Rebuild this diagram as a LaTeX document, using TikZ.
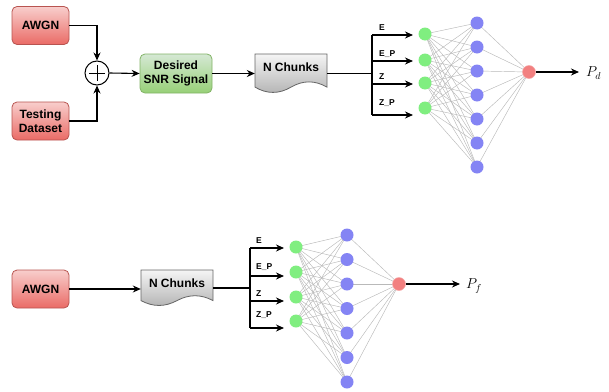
\documentclass[tikz,border=0pt]{standalone}
\usepackage{fontspec}
\setmainfont{Liberation Sans}
\usetikzlibrary{arrows.meta,calc}
\definecolor{redfillA}{HTML}{F8CECC}
\definecolor{redfillB}{HTML}{EA6B66}
\definecolor{redline}{HTML}{B85450}
\definecolor{grnfillA}{HTML}{D5E8D4}
\definecolor{grnfillB}{HTML}{97D077}
\definecolor{grnline}{HTML}{82B366}
\definecolor{gryfillA}{HTML}{F5F5F5}
\definecolor{gryfillB}{HTML}{B3B3B3}
\definecolor{gryline}{HTML}{666666}
\definecolor{nGreen}{HTML}{80EE80}
\definecolor{nBlue}{HTML}{8484F4}
\definecolor{nRed}{HTML}{F28080}
\tikzset{
  boxfont/.style={font=\fontsize{12}{14}\selectfont\bfseries, align=center},
  redbox/.style={boxfont, rounded corners=5pt, draw=redline, line width=0.8pt,
    top color=redfillA, bottom color=redfillB, minimum width=57pt, minimum height=38pt, inner sep=1pt},
  grnbox/.style={boxfont, rounded corners=5pt, draw=grnline, line width=0.8pt,
    top color=grnfillA, bottom color=grnfillB, minimum width=72pt, minimum height=39pt, inner sep=1pt},
  docshape/.style={draw=gryline, line width=0.8pt, top color=gryfillA, bottom color=gryfillB},
  arr/.style={line width=1.1pt, -{Stealth[length=8pt,width=7pt]}},
  ln/.style={line width=1.1pt},
  lab/.style={font=\fontsize{8.5}{10}\selectfont\bfseries, anchor=west, inner sep=0pt},
  neuron/.style={circle, inner sep=0pt, minimum size=13pt},
  gn/.style={neuron, fill=nGreen},
  bn/.style={neuron, fill=nBlue},
  rn/.style={neuron, fill=nRed, draw=nRed!70!white, line width=0.5pt},
  wire/.style={draw=gray!55, line width=0.45pt},
  outlab/.style={font=\fontsize{14.5}{16}\selectfont, anchor=west, inner sep=0pt}
}
\begin{document}
\begin{tikzpicture}[x=1pt,y=-1pt]
\useasboundingbox (0,0) rectangle (609,391);

% ===== Top diagram =====
\node[redbox] (awgn1) at (40.5,25.5) {AWGN};
\node[redbox] (test) at (40.5,121) {Testing\\Dataset};
\node[circle, draw, line width=1pt, minimum size=24pt, inner sep=0pt] (sum) at (97,73) {};
\draw[line width=1pt] ($(sum.center)+(-8,0)$) -- ($(sum.center)+(8,0)$);
\draw[line width=1pt] ($(sum.center)+(0,-8)$) -- ($(sum.center)+(0,8)$);
\draw[arr] (awgn1.east) -| (sum.north);
\draw[arr] (test.east) -| (sum.south);
\node[grnbox] (snr) at (176,73.5) {Desired\\SNR Signal};
\draw[arr] (sum.east) -- (snr.west);

\node[minimum width=72pt, minimum height=39pt, inner sep=0pt] (chunk1) at (291,73.5) {};
\begin{scope}[shift={(255,54)}]
\path[docshape] (0,0) -- (72,0) -- (72,33.15)
  .. controls (60,26.13) and (48,26.13) .. (36,33.15)
  .. controls (24,40.17) and (12,40.17) .. (0,33.15) -- cycle;
\end{scope}
\node[boxfont] (chunk1txt) at (291,67.5) {N Chunks};
\draw[arr] (snr.east) -- (chunk1.west);

\coordinate (br1) at (372,73.5);
\coordinate (b1a) at (372,35);
\coordinate (b1b) at (372,61);
\coordinate (b1c) at (372,84);
\coordinate (b1d) at (372,115);
\coordinate (e1a) at (413,35);
\coordinate (e1b) at (413,61);
\coordinate (e1c) at (413,84);
\coordinate (e1d) at (413,115);
\draw[ln] (chunk1.east) -- (br1);
\draw[ln] (b1a) -- (b1d);
\draw[arr] (b1a) -- (e1a);
\draw[arr] (b1b) -- (e1b);
\draw[arr] (b1c) -- (e1c);
\draw[arr] (b1d) -- (e1d);
\node[lab] (l1a) at (379,28) {E};
\node[lab] (l1b) at (379,54) {E\_P};
\node[lab] (l1c) at (379,77) {Z};
\node[lab] (l1d) at (379,103) {Z\_P};

% network 1
\foreach \i/\y in {1/34,2/60,3/83,4/108} \coordinate (g1p\i) at (425,\y);
\foreach \i/\y in {1/23,2/47,3/71,4/95,5/119,6/143,7/167} \coordinate (h1p\i) at (477,\y);
\foreach \i in {1,...,4} \foreach \j in {1,...,7} \draw[wire] (g1p\i) -- (h1p\j);
\foreach \j in {1,...,7} \draw[wire] (h1p\j) -- (529,72);
\foreach \i in {1,...,4} \node[gn] (g1\i) at (g1p\i) {};
\foreach \j in {1,...,7} \node[bn] (h1\j) at (h1p\j) {};
\node[rn] (o1) at (529,72) {};
\coordinate (t1) at (579,72);
\node[outlab] (pd) at (586,73) {$P_d$};
\draw[arr] (o1.east) -- (t1);

% ===== Bottom diagram =====
\node[redbox] (awgn2) at (40.5,289) {AWGN};
\node[minimum width=72pt, minimum height=36pt, inner sep=0pt] (chunk2) at (177,288) {};
\begin{scope}[shift={(141,270)}]
\path[docshape] (0,0) -- (72,0) -- (72,30.6)
  .. controls (60,24.12) and (48,24.12) .. (36,30.6)
  .. controls (24,37.08) and (12,37.08) .. (0,30.6) -- cycle;
\end{scope}
\node[boxfont] (chunk2txt) at (177,283) {N Chunks};
\draw[arr] (awgn2.east) -- (chunk2.west |- awgn2.east);

\coordinate (br2) at (250,288);
\coordinate (b2a) at (250,248);
\coordinate (b2b) at (250,276);
\coordinate (b2c) at (250,301);
\coordinate (b2d) at (250,328);
\coordinate (e2a) at (284,248);
\coordinate (e2b) at (284,276);
\coordinate (e2c) at (284,301);
\coordinate (e2d) at (284,328);
\draw[ln] (chunk2.east) -- (br2);
\draw[ln] (b2a) -- (b2d);
\draw[arr] (b2a) -- (e2a);
\draw[arr] (b2b) -- (e2b);
\draw[arr] (b2c) -- (e2c);
\draw[arr] (b2d) -- (e2d);
\node[lab] (l2a) at (256,241) {E};
\node[lab] (l2b) at (256,267) {E\_P};
\node[lab] (l2c) at (256,294) {Z};
\node[lab] (l2d) at (256,315) {Z\_P};

% network 2
\foreach \i/\y in {1/247,2/272,3/297,4/321} \coordinate (g2p\i) at (296,\y);
\foreach \i/\y in {1/235,2/259.5,3/284,4/308.5,5/333,6/357.5,7/382} \coordinate (h2p\i) at (347,\y);
\foreach \i in {1,...,4} \foreach \j in {1,...,7} \draw[wire] (g2p\i) -- (h2p\j);
\foreach \j in {1,...,7} \draw[wire] (h2p\j) -- (399,284);
\foreach \i in {1,...,4} \node[gn] (g2\i) at (g2p\i) {};
\foreach \j in {1,...,7} \node[bn] (h2\j) at (h2p\j) {};
\node[rn] (o2) at (399,284) {};
\coordinate (t2) at (460,284);
\node[outlab] (pf) at (466,286) {$P_f$};
\draw[arr] (o2.east) -- (t2);
\end{tikzpicture}
\end{document}
